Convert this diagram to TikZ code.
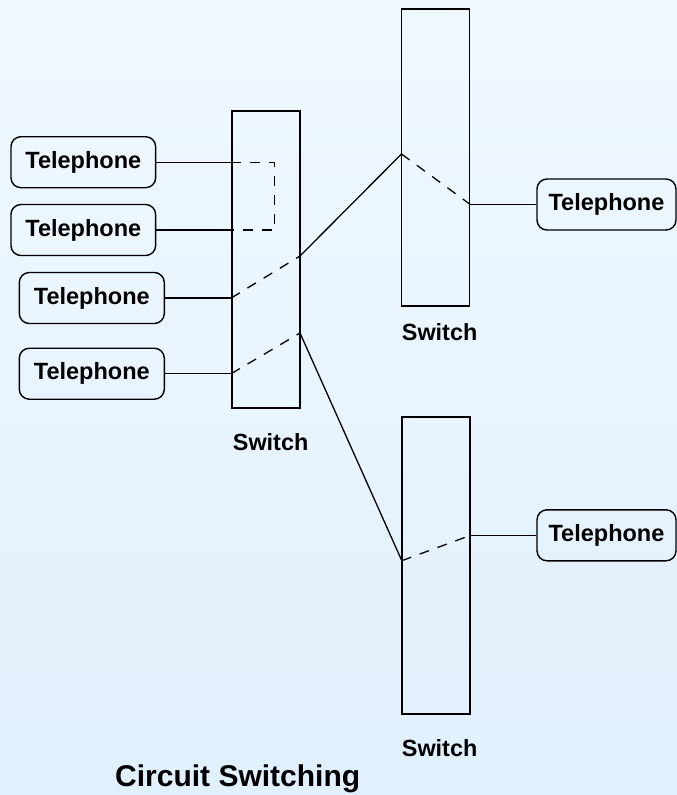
\documentclass[tikz,border=0pt]{standalone}
\usepackage{fontspec}
\setmainfont{Liberation Sans}
\definecolor{bgtop}{HTML}{F0F8FF}
\definecolor{bgbot}{HTML}{E0F0FD}
\tikzset{
  phone/.style={draw=black, line width=1.4pt, rounded corners=10pt, fill=none,
    minimum height=51pt, inner sep=0pt, font=\bfseries\fontsize{23.5}{28}\selectfont},
  switchbox/.style={draw=black, line width=1.6pt, minimum width=68pt, minimum height=297pt, inner sep=0pt},
  swlabel/.style={anchor=base west, inner sep=0pt, font=\bfseries\fontsize{23.4}{28}\selectfont},
  wire/.style={draw=black, line width=1.3pt},
  dashline/.style={draw=black, line width=1.3pt, dash pattern=on 10pt off 9pt},
}
\begin{document}
\begin{tikzpicture}[x=1pt,y=-1pt]
\shade[top color=bgtop, bottom color=bgbot] (0,0) rectangle (677,795);
\useasboundingbox (0,0) rectangle (677,795);

% switches
\node[switchbox] (S1) at (266,259.5) {};
\node[switchbox] (S2) at (435.5,157.7) {};
\node[switchbox] (S3) at (435.8,565.3) {};
\node[swlabel] (L1) at (232.7,450) {Switch};
\node[swlabel] (L2) at (401.7,340.5) {Switch};
\node[swlabel] (L3) at (401.7,756.5) {Switch};

% telephones
\node[phone, minimum width=144.7pt] (T1) at (83.3,162.2) {Telephone};
\node[phone, minimum width=144.7pt] (T2) at (83.3,230) {Telephone};
\node[phone, minimum width=145pt] (T3) at (91.8,298) {Telephone};
\node[phone, minimum width=145pt] (T4) at (91.8,373.7) {Telephone};
\node[phone, minimum width=139pt] (T5) at (606.5,204.5) {Telephone};
\node[phone, minimum width=139pt] (T6) at (606.5,535.3) {Telephone};

% title
\node[anchor=base west, inner sep=0pt, font=\bfseries\fontsize{30}{36}\selectfont] (title) at (115,786) {Circuit Switching};

% connection points
\coordinate (a1) at (T1.east -| S1.west);
\coordinate (a2) at (T2.east -| S1.west);
\coordinate (a3) at (274.5,162.2);
\coordinate (b1) at (T3.east -| S1.west);
\coordinate (b2) at (300,256);
\coordinate (c1) at (401.5,154);
\coordinate (c2) at (T5.west -| S2.east);
\coordinate (d1) at (T4.east -| S1.west);
\coordinate (d2) at (300,333);
\coordinate (e1) at (401.8,560.7);
\coordinate (e2) at (T6.west -| S3.east);

% local loop
\draw[wire] (T1.east) -- (a1);
\draw[wire] (T2.east) -- (a2);
\draw[dashline] (a1) -- (a3) |- (a2);

% upper route
\draw[wire] (T3.east) -- (b1);
\draw[dashline] (b1) -- (b2);
\draw[wire] (b2) -- (c1);
\draw[dashline] (c1) -- (c2);
\draw[wire] (c2) -- (T5.west);

% lower route
\draw[wire] (T4.east) -- (d1);
\draw[dashline] (d1) -- (d2);
\draw[wire] (d2) -- (e1);
\draw[dashline] (e1) -- (e2);
\draw[wire] (e2) -- (T6.west);
\end{tikzpicture}
\end{document}
